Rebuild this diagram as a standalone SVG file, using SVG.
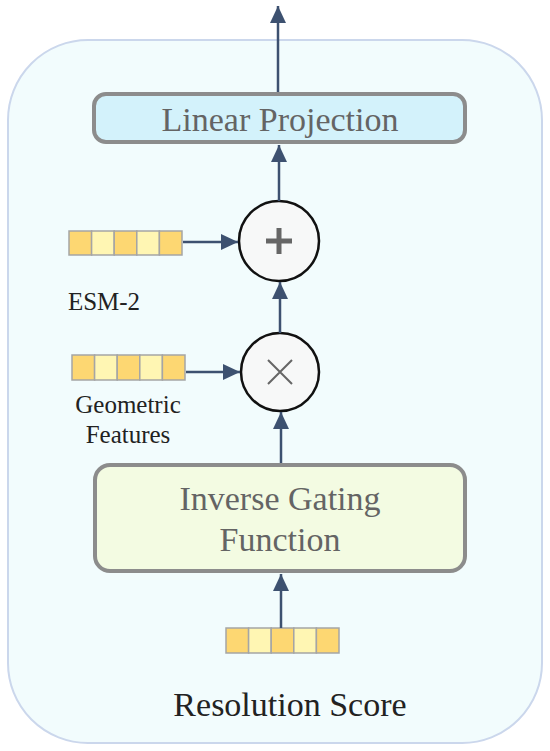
<svg xmlns="http://www.w3.org/2000/svg" width="550" height="751" viewBox="0 0 550 751">
<defs>
<marker id="ah" markerUnits="userSpaceOnUse" markerWidth="18" markerHeight="18" viewBox="0 0 18 18" refX="17" refY="9" orient="auto">
<path d="M0,1 L17,9 L0,17 Z" fill="#3d5170"/>
</marker>
<style>
.con{stroke:#3d5170;stroke-width:2.5;fill:none}
.box{stroke:#8c8c8c;stroke-width:4}
.lbl{fill:#646464;text-anchor:middle}
.cap{fill:#222;text-anchor:middle}
.c1{fill:#fdd772;stroke:#a5a5a5;stroke-width:1.5}
.c2{fill:#fff6b3;stroke:#a5a5a5;stroke-width:1.5}
.op{fill:#f7f8f8;stroke:#111;stroke-width:2.5}
</style>
</defs>
<rect x="8" y="40" width="534" height="703" rx="80" ry="80" fill="#f2fcfd" stroke="#cbd7ec" stroke-width="2"/>

<g font-family="'Liberation Serif', 'Times New Roman', 'DejaVu Serif', serif">
<g id="linear-projection">
<rect class="box" x="94" y="94" width="371" height="48" rx="12" fill="#d3f2fb"/>
<text class="lbl" x="280" y="131" font-size="34">Linear Projection</text>
</g>

<g id="add">
<circle class="op" cx="279" cy="241" r="40"/>
<path d="M266,241 H292 M279,228 V254" stroke="#666" stroke-width="5"/>
</g>

<g id="multiply">
<circle class="op" cx="280" cy="372" r="39"/>
<path d="M268,360 L292,384 M292,360 L268,384" stroke="#666" stroke-width="2"/>
</g>

<g id="esm2">
<rect class="c1" x="69" y="231" width="22.6" height="24"/>
<rect class="c2" x="91.6" y="231" width="22.6" height="24"/>
<rect class="c1" x="114.2" y="231" width="22.6" height="24"/>
<rect class="c2" x="136.8" y="231" width="22.6" height="24"/>
<rect class="c1" x="159.4" y="231" width="22.6" height="24"/>
<text class="cap" x="104" y="310" font-size="25">ESM-2</text>
</g>

<g id="geometric-features">
<rect class="c1" x="72" y="355" width="22.6" height="25"/>
<rect class="c2" x="94.6" y="355" width="22.6" height="25"/>
<rect class="c1" x="117.2" y="355" width="22.6" height="25"/>
<rect class="c2" x="139.8" y="355" width="22.6" height="25"/>
<rect class="c1" x="162.4" y="355" width="22.6" height="25"/>
<text class="cap" x="128" y="413" font-size="25">Geometric</text>
<text class="cap" x="128" y="443" font-size="25">Features</text>
</g>

<g id="inverse-gating">
<rect class="box" x="95" y="465" width="370" height="106" rx="15" fill="#f3fbe2"/>
<text class="lbl" x="280" y="510" font-size="34">Inverse Gating</text>
<text class="lbl" x="280" y="551" font-size="34">Function</text>
</g>

<g id="resolution-score">
<rect class="c1" x="226" y="628" width="22.6" height="25"/>
<rect class="c2" x="248.6" y="628" width="22.6" height="25"/>
<rect class="c1" x="271.2" y="628" width="22.6" height="25"/>
<rect class="c2" x="293.8" y="628" width="22.6" height="25"/>
<rect class="c1" x="316.4" y="628" width="22.6" height="25"/>
<text class="cap" x="290" y="716" font-size="34">Resolution Score</text>
</g>
</g>

<g id="connectors">
<path class="con" d="M278,92 V6" marker-end="url(#ah)"/>
<path class="con" d="M279,201 V145" marker-end="url(#ah)"/>
<path class="con" d="M280,333 V282" marker-end="url(#ah)"/>
<path class="con" d="M281,463 V412" marker-end="url(#ah)"/>
<path class="con" d="M281,628 V574" marker-end="url(#ah)"/>
<path class="con" d="M183,242 H238" marker-end="url(#ah)"/>
<path class="con" d="M186,372 H240" marker-end="url(#ah)"/>
</g>
</svg>
